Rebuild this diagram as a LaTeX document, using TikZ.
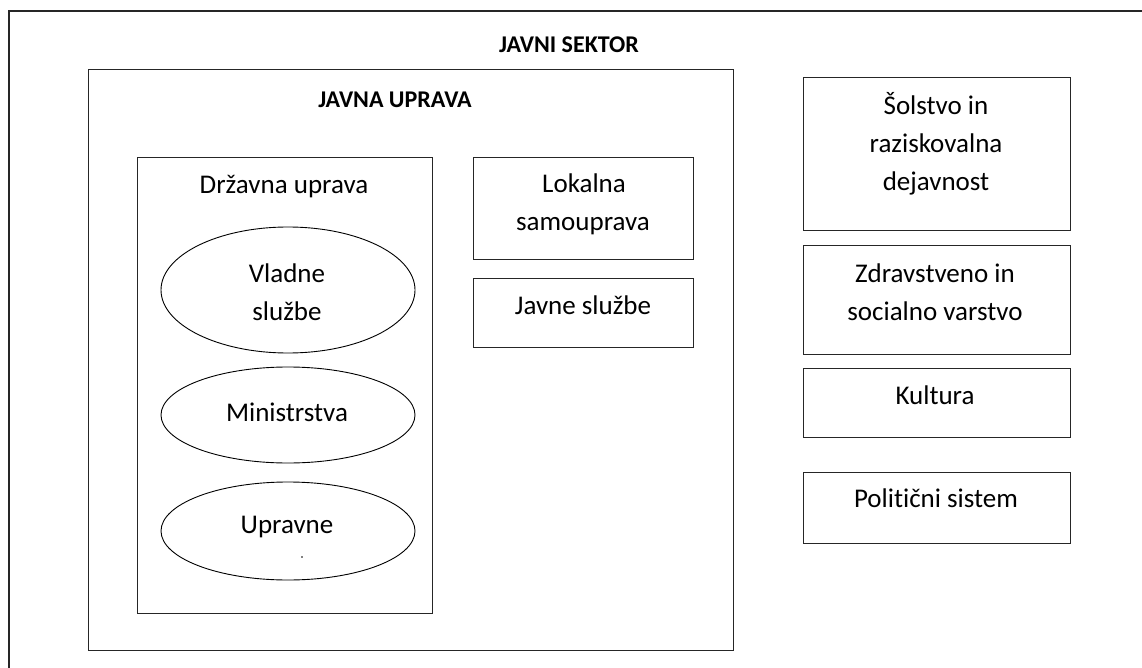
\documentclass[tikz,border=0pt]{standalone}
\usepackage{fontspec}
\setmainfont{Carlito}[Ligatures=NoCommon]
\usetikzlibrary{shapes.geometric}
\begin{document}
\begin{tikzpicture}[x=1pt,y=-1pt,
  frame/.style={draw=black!85,line width=1.1pt,inner sep=0pt,minimum width=#1},
  oval/.style={ellipse,draw=black,line width=0.9pt,inner sep=0pt,minimum width=254pt},
  lbl/.style={anchor=base,inner sep=0pt,font=\fontsize{27}{30}\selectfont},
  ttl/.style={anchor=base,inner sep=0pt,font=\fontsize{24}{28}\selectfont\bfseries}]
\useasboundingbox (0,0) rectangle (1142,668);
\clip (0,0) rectangle (1142,668);

% outer frame: public sector (runs past the right and bottom edges)
\draw[draw=black!85,line width=1.1pt] (9,700) -- (9,11) -- (1170,11);
\node[ttl] (sektor) at (569,53) {JAVNI SEKTOR};

% public administration
\node[frame=645pt,minimum height=581pt,anchor=north west] (uprava) at (88,69) {};
\node[ttl] (upravaT) at (395,108) {JAVNA UPRAVA};

% state administration with its three bodies
\node[frame=295pt,minimum height=456pt,anchor=north west] (drzavna) at (137,157) {};
\node[lbl] (drzavnaT) at (284,194) {Državna uprava};

\node[oval,minimum height=126pt] (vladne) at (288,290) {};
\node[lbl] (vladneA) at (287,282) {Vladne};
\node[lbl] (vladneB) at (287,320) {službe};

\node[oval,minimum height=96pt] (minis) at (288,415) {};
\node[lbl] (minisT) at (287,421) {Ministrstva};

\node[oval,minimum height=98pt] (upravne) at (288,531) {};
\node[lbl] (upravneT) at (287,533) {Upravne};
\node[circle,fill=black,inner sep=0pt,minimum size=1.6pt] (upravneDot) at (302,557) {};

% local self-government and public services
\node[frame=220pt,minimum height=102pt,anchor=north west] (lokalna) at (473,157) {};
\node[lbl] (lokalnaA) at (584,193) {Lokalna};
\node[lbl] (lokalnaB) at (583,231) {samouprava};

\node[frame=220pt,minimum height=69pt,anchor=north west] (javne) at (473,278) {};
\node[lbl] (javneT) at (583,314) {Javne službe};

% other parts of the public sector
\node[frame=267pt,minimum height=153pt,anchor=north west] (solstvo) at (803,77) {};
\node[lbl] (solstvoA) at (936,115) {Šolstvo in};
\node[lbl] (solstvoB) at (936,153) {raziskovalna};
\node[lbl] (solstvoC) at (936,191) {dejavnost};

\node[frame=267pt,minimum height=109pt,anchor=north west] (zdrav) at (803,245) {};
\node[lbl] (zdravA) at (935,282) {Zdravstveno in};
\node[lbl] (zdravB) at (935,320) {socialno varstvo};

\node[frame=267pt,minimum height=69pt,anchor=north west] (kultura) at (803,368) {};
\node[lbl] (kulturaT) at (935,404) {Kultura};

\node[frame=267pt,minimum height=71pt,anchor=north west] (polit) at (803,472) {};
\node[lbl] (politT) at (936,507) {Politični sistem};
\end{tikzpicture}
\end{document}
